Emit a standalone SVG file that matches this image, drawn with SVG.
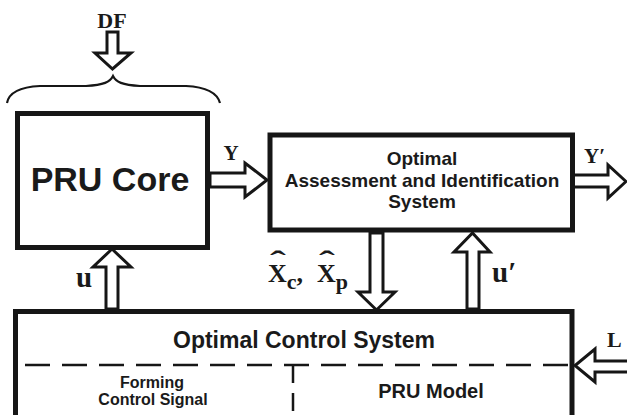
<svg xmlns="http://www.w3.org/2000/svg" width="627" height="415" viewBox="0 0 627 415">
  <style>
    .box { fill: #ffffff; stroke: #161616; stroke-width: 5; }
    .arrow { fill: #ffffff; stroke: #161616; stroke-width: 3; stroke-linejoin: miter; }
    .sans { font-family: "Liberation Sans", Arial, sans-serif; font-weight: bold; fill: #1a1a1a; text-anchor: middle; }
    .serif { font-family: "Liberation Serif", "Times New Roman", serif; font-weight: bold; fill: #1a1a1a; }
    .dash { fill: none; stroke: #161616; stroke-width: 2.5; }
  </style>
  <rect width="627" height="415" fill="#ffffff"/>

  <!-- disturbance input with brace -->
  <g id="disturbance">
    <text class="serif" x="112" y="28" font-size="22" text-anchor="middle">DF</text>
    <path d="M7,103 C9,92 20,87 40,86 L86,86 C104,85 110,82 113,76 C116,82 122,85 140,86 L186,86 C206,87 217,92 220,103" fill="none" stroke="#161616" stroke-width="2.2"/>
  </g>

  <g id="pru-core">
    <rect class="box" x="17.5" y="113.5" width="190" height="134"/>
    <text class="sans" x="110" y="191" font-size="34">PRU Core</text>
  </g>

  <g id="assessment">
    <rect class="box" x="270" y="135" width="302.5" height="95"/>
    <text class="sans" x="422" y="165" font-size="19">Optimal</text>
    <text class="sans" x="422" y="187" font-size="19">Assessment and Identification</text>
    <text class="sans" x="422" y="208" font-size="19">System</text>
  </g>

  <g id="control-system">
    <rect class="box" x="15.5" y="311.5" width="556.5" height="130"/>
    <text class="sans" x="304" y="348" font-size="23">Optimal Control System</text>
    <text class="sans" x="152" y="388" font-size="16">Forming</text>
    <text class="sans" x="153" y="405" font-size="16">Control Signal</text>
    <text class="sans" x="431" y="398" font-size="20">PRU Model</text>
    <path class="dash" d="M25,365 H572" stroke-dasharray="25 12"/>
    <path class="dash" d="M293,365 V415" stroke-dasharray="18 10"/>
  </g>

  <g id="connectors">
    <!-- DF into core -->
    <polygon class="arrow" points="107,32 118,32 118,53 131,53 112.5,69 95,53 107,53"/>
    <!-- Y : core to assessment -->
    <polygon class="arrow" points="210,173 245,173 245,163 267,180 245,197 245,187 210,187"/>
    <!-- Y' out of assessment -->
    <polyline class="arrow" points="575,175 608,175 608,165 626,181.5 608,198 608,187 575,187"/>
    <!-- u : control to core -->
    <polygon class="arrow" points="106,309 106,267 93,267 112,249 131,267 118,267 118,309"/>
    <!-- estimates : assessment to control -->
    <polygon class="arrow" points="370,233 370,292 358,292 376.5,310 395,292 383,292 383,233"/>
    <!-- u' : control to assessment -->
    <polygon class="arrow" points="467,309 467,252 454,252 472.5,233 490,252 479,252 479,309"/>
    <!-- L : external input into control -->
    <polyline class="arrow" points="630,361 595,361 595,349 575,365.5 595,382 595,372 630,372"/>
  </g>

  <g id="labels">
    <text class="serif" x="231" y="160" font-size="21" text-anchor="middle">Y</text>
    <text class="serif" x="584" y="163" font-size="21">Y′</text>
    <text class="serif" x="84" y="287" font-size="29" text-anchor="middle">u</text>
    <text class="serif" x="492" y="282" font-size="29">u′</text>
    <text class="serif" x="607" y="347" font-size="22">L</text>
    <text class="serif" x="268" y="282" font-size="26">X<tspan font-size="22" dy="7">c</tspan><tspan font-size="26" dy="-7">, </tspan><tspan x="317">X</tspan><tspan font-size="22" dy="7">p</tspan></text>
    <text class="serif" transform="translate(278,270) scale(1.7,1)" font-size="28" text-anchor="middle">ˆ</text>
    <text class="serif" transform="translate(327,270) scale(1.7,1)" font-size="28" text-anchor="middle">ˆ</text>
  </g>
</svg>
